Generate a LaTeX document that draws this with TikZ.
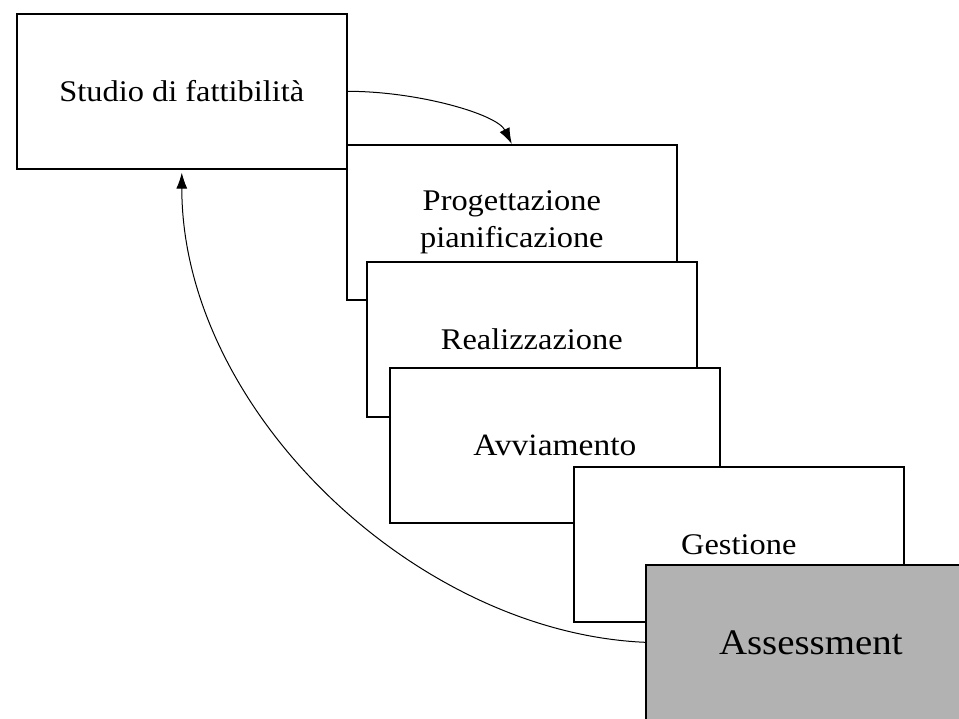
\documentclass[tikz,border=0pt]{standalone}
\usepackage{fontspec}
\setmainfont{Liberation Serif}[FakeStretch=1.08]
\usepackage{tikz}
\usetikzlibrary{arrows.meta}

\tikzset{
	phase/.style={draw, line width=1.6pt, fill=white, anchor=north west, inner sep=0pt,
		minimum width=330pt, minimum height=155pt, align=center,
		font=\fontsize{30}{37}\selectfont},
	loop/.style={line width=1pt, -{Latex[length=16pt,width=11pt]}}
}

\begin{document}
\begin{tikzpicture}[x=1pt, y=-1pt]
		\useasboundingbox (0,0) rectangle (959,718);
		\clip (0,0) rectangle (959,718);
		\node[phase] (studio) at (16,13) {Studio di fattibilità};
		\node[phase] (prog) at (346,144) {Progettazione\\pianificazione};
		\node[phase] (real) at (366,261) {Realizzazione};
		\node[phase, font=\fontsize{31}{37}\selectfont] (avv) at (389,367) {Avviamento};
		\node[phase] (gest) at (573,466) {Gestione};
		\node[phase, fill=black!30, font=\fontsize{36}{40}\selectfont] (assess) at (645,564) {Assessment};
		% forward and back
		\draw[loop] (studio.east) .. controls +(70,0) and +(-15,-30) .. (prog.north);
		\draw[loop, shorten >=3pt] (assess.west) .. controls +(-230,-10) and +(0,240) .. (studio.south);
	\end{tikzpicture}
\end{document}
